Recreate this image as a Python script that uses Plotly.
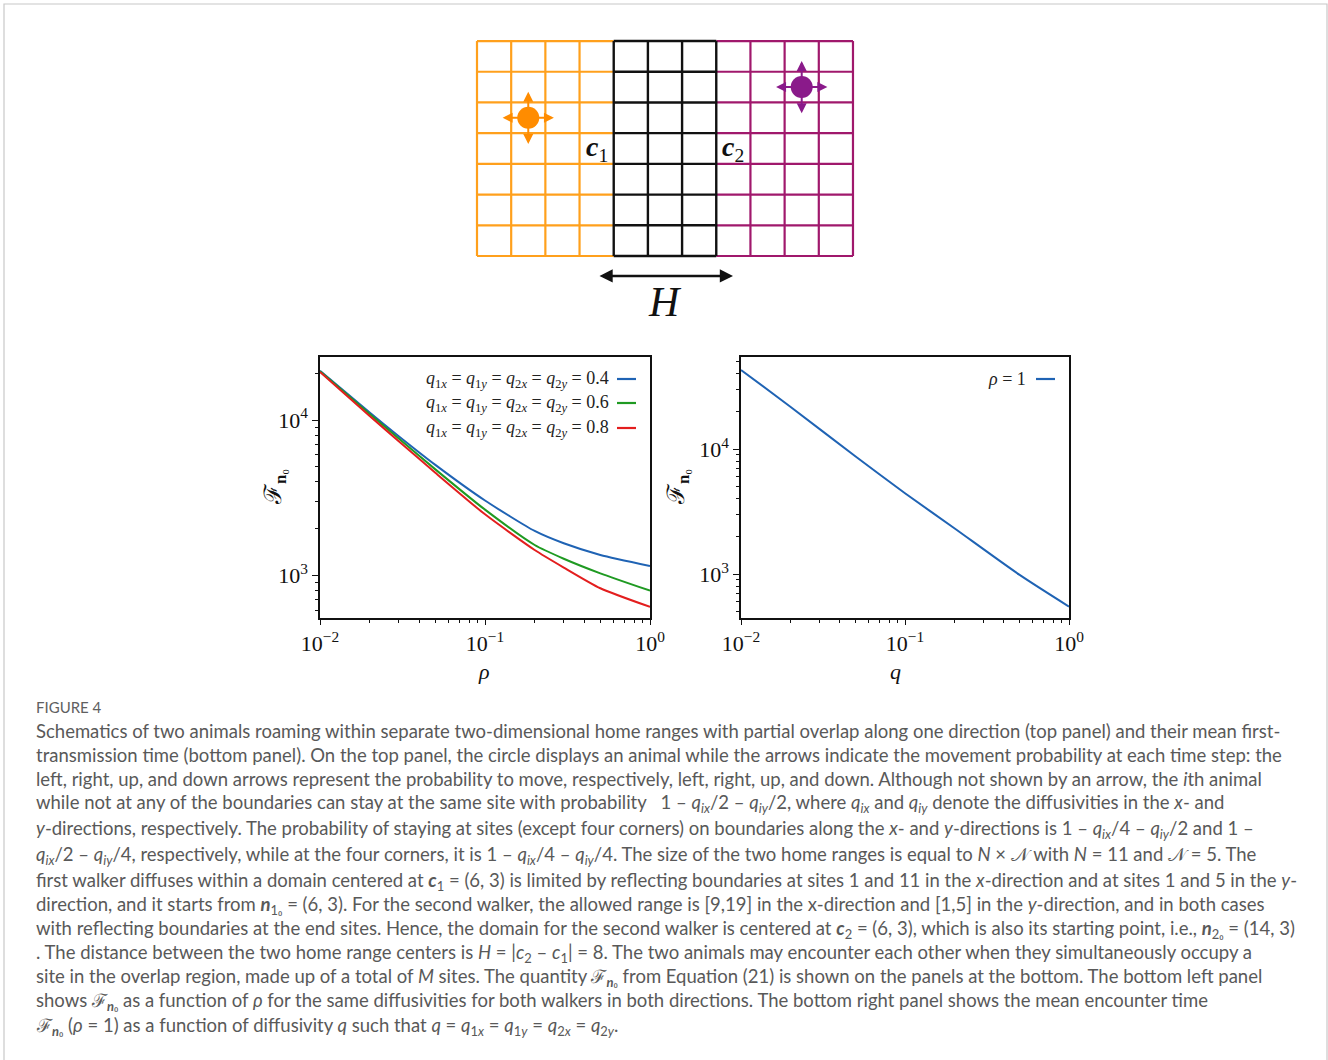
import plotly.graph_objects as go

W, H = 1328, 1060
def px(x): return x / W
def py(y): return 1 - y / H

# ---------------- data ----------------
rho = [0.01, 0.02, 0.03, 0.05, 0.1, 0.2, 0.3, 0.5, 1.0]
F_q04 = [20750, 11190, 7870, 5150, 3040, 1937, 1614, 1358, 1154]
F_q06 = [20540, 10940, 7600, 4820, 2655, 1574, 1285, 1035, 801]
F_q08 = [20340, 10630, 7310, 4580, 2478, 1462, 1128, 830, 630]
left_labels = [
    "<i>q</i><sub>1<i>x</i></sub> = <i>q</i><sub>1<i>y</i></sub> = <i>q</i><sub>2<i>x</i></sub> = <i>q</i><sub>2<i>y</i></sub> = 0.4",
    "<i>q</i><sub>1<i>x</i></sub> = <i>q</i><sub>1<i>y</i></sub> = <i>q</i><sub>2<i>x</i></sub> = <i>q</i><sub>2<i>y</i></sub> = 0.6",
    "<i>q</i><sub>1<i>x</i></sub> = <i>q</i><sub>1<i>y</i></sub> = <i>q</i><sub>2<i>x</i></sub> = <i>q</i><sub>2<i>y</i></sub> = 0.8",
]
q_vals = [0.01, 0.02, 0.05, 0.1, 0.2, 0.5, 1.0]
F_rho1 = [43100, 21900, 8740, 4450, 2333, 988, 551]
right_label = "<i>ρ</i> = 1"

x_tickvals = [0.01, 0.1, 1]
x_ticktext = ["10<sup>−2</sup>", "10<sup>−1</sup>", "10<sup>0</sup>"]
y_tickvals = [1e3, 1e4]
y_ticktext = ["10<sup>3</sup>", "10<sup>4</sup>"]

# schematic grid (cell units)
grid_rows = 7
home1_cols = (0, 7)
home2_cols = (4, 11)
overlap_cols = (4, 7)
walker1_pos = (1.5, 4.5)
walker2_pos = (9.5, 5.5)
c1_pos = (3.5, 3.5)
c2_pos = (7.5, 3.5)

caption_lines = [
    "Schematics of two animals roaming within separate two-dimensional home ranges with partial overlap along one direction (top panel) and their mean first-",
    "transmission time (bottom panel). On the top panel, the circle displays an animal while the arrows indicate the movement probability at each time step: the",
    "left, right, up, and down arrows represent the probability to move, respectively, left, right, up, and down. Although not shown by an arrow, the <i>i</i>th animal",
    "while not at any of the boundaries can stay at the same site with probability   1 – <i>q<sub>ix</sub></i>/2 – <i>q<sub>iy</sub></i>/2, where <i>q<sub>ix</sub></i> and <i>q<sub>iy</sub></i> denote the diffusivities in the <i>x</i>- and",
    "<i>y</i>-directions, respectively. The probability of staying at sites (except four corners) on boundaries along the <i>x</i>- and <i>y</i>-directions is 1 – <i>q<sub>ix</sub></i>/4 – <i>q<sub>iy</sub></i>/2 and 1 –",
    "<i>q<sub>ix</sub></i>/2 – <i>q<sub>iy</sub></i>/4, respectively, while at the four corners, it is 1 – <i>q<sub>ix</sub></i>/4 – <i>q<sub>iy</sub></i>/4. The size of the two home ranges is equal to <i>N</i> × 𝒩 with <i>N</i> = 11 and 𝒩 = 5. The",
    "first walker diffuses within a domain centered at <b><i>c</i></b><sub>1</sub> = (6, 3) is limited by reflecting boundaries at sites 1 and 11 in the <i>x</i>-direction and at sites 1 and 5 in the <i>y</i>-",
    "direction, and it starts from <b><i>n</i></b><sub>1₀</sub> = (6, 3). For the second walker, the allowed range is [9,19] in the x-direction and [1,5] in the <i>y</i>-direction, and in both cases",
    "with reflecting boundaries at the end sites. Hence, the domain for the second walker is centered at <b><i>c</i></b><sub>2</sub> = (6, 3), which is also its starting point, i.e., <b><i>n</i></b><sub>2₀</sub> = (14, 3)",
    ". The distance between the two home range centers is <i>H</i> = |<i>c</i><sub>2</sub> – <i>c</i><sub>1</sub>| = 8. The two animals may encounter each other when they simultaneously occupy a",
    "site in the overlap region, made up of a total of <i>M</i> sites. The quantity ℱ<sub><b><i>n</i></b>₀</sub> from Equation (21) is shown on the panels at the bottom. The bottom left panel",
    "shows ℱ<sub><b><i>n</i></b>₀</sub> as a function of <i>ρ</i> for the same diffusivities for both walkers in both directions. The bottom right panel shows the mean encounter time",
    "ℱ<sub><b><i>n</i></b>₀</sub> (<i>ρ</i> = 1) as a function of diffusivity <i>q</i> such that <i>q</i> = <i>q</i><sub>1<i>x</i></sub> = <i>q</i><sub>1<i>y</i></sub> = <i>q</i><sub>2<i>x</i></sub> = <i>q</i><sub>2<i>y</i></sub>.",
]
caption_y = [731, 755, 779, 803, 829, 855, 881, 905, 929, 953, 977, 1001, 1026]

# ---------------- styles ----------------
BLUE, GREEN, RED = "#1f63b4", "#1f9a22", "#e31e1e"
ORANGE, MAGENTA = "#ffa01c", "#a0186c"
ORANGE_DOT, PURPLE_DOT = "#ff8c00", "#8a1a8a"
SERIF = "Liberation Serif, DejaVu Serif, serif"
CAP_FONT = "Lato, Open Sans, sans-serif"
CAP_COLOR = "#595959"

fig = go.Figure()

# ---------------- left plot ----------------
for ys, col in zip([F_q04, F_q06, F_q08], [BLUE, GREEN, RED]):
    fig.add_trace(go.Scatter(x=rho, y=ys, mode="lines", line=dict(color=col, width=2, shape="spline", smoothing=0.6),
                             xaxis="x", yaxis="y", showlegend=False, hoverinfo="skip"))
# ---------------- right plot ----------------
fig.add_trace(go.Scatter(x=q_vals, y=F_rho1, mode="lines", line=dict(color=BLUE, width=2, shape="spline", smoothing=0.7),
                         xaxis="x2", yaxis="y2", showlegend=False, hoverinfo="skip"))

# ---------------- schematic grid ----------------
def seg_trace(xs_v, y_range, hs, x_range, color, width):
    X, Y = [], []
    for xv in xs_v:
        X += [xv, xv, None]; Y += [y_range[0], y_range[1], None]
    for hv in hs:
        X += [x_range[0], x_range[1], None]; Y += [hv, hv, None]
    return go.Scatter(x=X, y=Y, mode="lines", line=dict(color=color, width=width),
                      xaxis="x3", yaxis="y3", showlegend=False, hoverinfo="skip")

rows = list(range(grid_rows + 1))
fig.add_trace(seg_trace(list(range(home1_cols[0], overlap_cols[0])), (0, grid_rows), rows,
                        (home1_cols[0], overlap_cols[0]), ORANGE, 2.2))
fig.add_trace(seg_trace(list(range(overlap_cols[1] + 1, home2_cols[1] + 1)), (0, grid_rows), rows,
                        (overlap_cols[1], home2_cols[1]), MAGENTA, 2.2))
fig.add_trace(seg_trace(list(range(overlap_cols[0], overlap_cols[1] + 1)), (0, grid_rows), rows,
                        overlap_cols, "#111111", 2.4))
fig.add_trace(go.Scatter(x=[walker1_pos[0], walker2_pos[0]], y=[walker1_pos[1], walker2_pos[1]], mode="markers",
                         marker=dict(size=22, color=[ORANGE_DOT, PURPLE_DOT]),
                         xaxis="x3", yaxis="y3", showlegend=False, hoverinfo="skip"))

annotations = []
shapes = []
for (cx, cy), col in [(walker1_pos, ORANGE_DOT), (walker2_pos, PURPLE_DOT)]:
    for dx, dy in [(0.75, 0), (-0.75, 0), (0, 0.85), (0, -0.85)]:
        annotations.append(dict(x=cx + dx, y=cy + dy, ax=cx, ay=cy, xref="x3", yref="y3", axref="x3", ayref="y3",
                                text="", showarrow=True, arrowhead=2, arrowsize=1.0, arrowwidth=2, arrowcolor=col,
                                startstandoff=8))

annotations.append(dict(x=c1_pos[0], y=c1_pos[1], xref="x3", yref="y3", text="<b><i>c</i></b><sub>1</sub>",
                        showarrow=False, font=dict(family=SERIF, size=28, color="#111")))
annotations.append(dict(x=c2_pos[0], y=c2_pos[1], xref="x3", yref="y3", text="<b><i>c</i></b><sub>2</sub>",
                        showarrow=False, font=dict(family=SERIF, size=28, color="#111")))
# H arrow
annotations.append(dict(x=7.49, y=-0.65, ax=3.54, ay=-0.65, xref="x3", yref="y3", axref="x3", ayref="y3",
                        text="", showarrow=True, arrowhead=2, arrowside="end+start", arrowsize=1.1,
                        arrowwidth=2.4, arrowcolor="#111"))
annotations.append(dict(x=5.5, y=-1.5, xref="x3", yref="y3", text="<i>H</i>", showarrow=False,
                        font=dict(family=SERIF, size=42, color="#111")))

# ---------------- legends ----------------
for i, (lab, col) in enumerate(zip(left_labels, [BLUE, GREEN, RED])):
    yy = [379, 403, 428][i]
    annotations.append(dict(x=px(611), y=py(yy), xref="paper", yref="paper", xanchor="right", yanchor="middle",
                            text=lab, showarrow=False, font=dict(family=SERIF, size=18, color="#222")))
    shapes.append(dict(type="line", xref="paper", yref="paper", x0=px(617), x1=px(636), y0=py(yy), y1=py(yy),
                       line=dict(color=col, width=2.2)))
annotations.append(dict(x=px(1028), y=py(379), xref="paper", yref="paper", xanchor="right", yanchor="middle",
                        text=right_label, showarrow=False, font=dict(family=SERIF, size=18, color="#222")))
shapes.append(dict(type="line", xref="paper", yref="paper", x0=px(1036), x1=px(1055), y0=py(379), y1=py(379),
                   line=dict(color=BLUE, width=2.2)))

# axis titles
for xx in [258, 678]:
    annotations.append(dict(x=px(xx), y=py(487), xref="paper", yref="paper", text="ℱ<sub><b>n</b>₀</sub>",
                            textangle=-90, showarrow=False, font=dict(family=SERIF, size=24, color="#111")))
annotations.append(dict(x=px(484), y=py(671), xref="paper", yref="paper", text="<i>ρ</i>", showarrow=False,
                        font=dict(family=SERIF, size=22, color="#111")))
annotations.append(dict(x=px(903), y=py(671), xref="paper", yref="paper", text="<i>q</i>", showarrow=False,
                        font=dict(family=SERIF, size=22, color="#111")))

# ---------------- caption ----------------
annotations.append(dict(x=px(34), y=py(707), xref="paper", yref="paper", xanchor="left", yanchor="middle",
                        text="FIGURE 4", showarrow=False, font=dict(family=CAP_FONT, size=15, color="#606060")))
for line, yy in zip(caption_lines, caption_y):
    annotations.append(dict(x=px(34), y=py(yy), xref="paper", yref="paper", xanchor="left", yanchor="middle",
                            text=line, showarrow=False, align="left",
                            font=dict(family=CAP_FONT, size=18.5, color=CAP_COLOR)))

# outer border
shapes.append(dict(type="rect", xref="paper", yref="paper", x0=px(4), x1=px(1327), y0=py(1075), y1=py(4),
                   line=dict(color="#c8c8c8", width=1.2), fillcolor="rgba(0,0,0,0)"))

# ---------------- axes ----------------
def minor_vals(lo_exp, hi_exp, lo=None, hi=None):
    vals = []
    for e in range(lo_exp, hi_exp):
        for m in range(2, 10):
            v = m * 10 ** e
            if (lo is None or v >= lo) and (hi is None or v <= hi):
                vals.append(v)
    return vals

tickfont = dict(family=SERIF, size=22, color="#111")
common_x = dict(type="log", range=[-2, 0], tickvals=x_tickvals, ticktext=x_ticktext, ticks="outside",
                ticklen=5, tickwidth=1.2, tickcolor="#111", showline=True, linecolor="#111", linewidth=1.5,
                mirror=True, showgrid=False, zeroline=False, tickfont=tickfont, automargin=False,
                minor=dict(tickvals=minor_vals(-2, 0), ticks="outside", ticklen=3, tickcolor="#111", showgrid=False))
common_y = dict(type="log", tickvals=y_tickvals, ticktext=y_ticktext, ticks="outside",
                ticklen=6, tickwidth=1.2, tickcolor="#111", showline=True, linecolor="#111", linewidth=1.5,
                mirror=True, showgrid=False, zeroline=False, tickfont=tickfont, automargin=False)

y_dom = [py(618), py(357)]
x3_lo, x3_hi = (420 - 477) / 34.18, (910 - 477) / 34.18
y3_lo, y3_hi = -(320 - 256) / 30.71, (256 - 30) / 30.71

fig.update_layout(
    width=W, height=H, margin=dict(l=0, r=0, t=0, b=0, pad=0, autoexpand=False), autosize=False,
    paper_bgcolor="white", plot_bgcolor="white", showlegend=False,
    xaxis=dict(domain=[px(320), px(650)], anchor="y", **common_x),
    yaxis=dict(domain=y_dom, anchor="x", range=[2.728, 4.405],
               minor=dict(tickvals=minor_vals(2, 5, 500, 26000), ticks="outside", ticklen=3, tickcolor="#111", showgrid=False),
               **common_y),
    xaxis2=dict(domain=[px(741), px(1069)], anchor="y2", **common_x),
    yaxis2=dict(domain=y_dom, anchor="x2", range=[2.65, 4.738],
                minor=dict(tickvals=minor_vals(2, 5, 440, 55000), ticks="outside", ticklen=3, tickcolor="#111", showgrid=False),
                **common_y),
    xaxis3=dict(domain=[px(420), px(910)], anchor="y3", range=[x3_lo, x3_hi], visible=False, automargin=False),
    yaxis3=dict(domain=[py(320), py(30)], anchor="x3", range=[y3_lo, y3_hi], visible=False, automargin=False),
    annotations=annotations, shapes=shapes,
)

fig.write_html("out.html", config={"displayModeBar": False},
               post_script="document.body.style.margin='0';document.body.style.overflow='hidden';")
